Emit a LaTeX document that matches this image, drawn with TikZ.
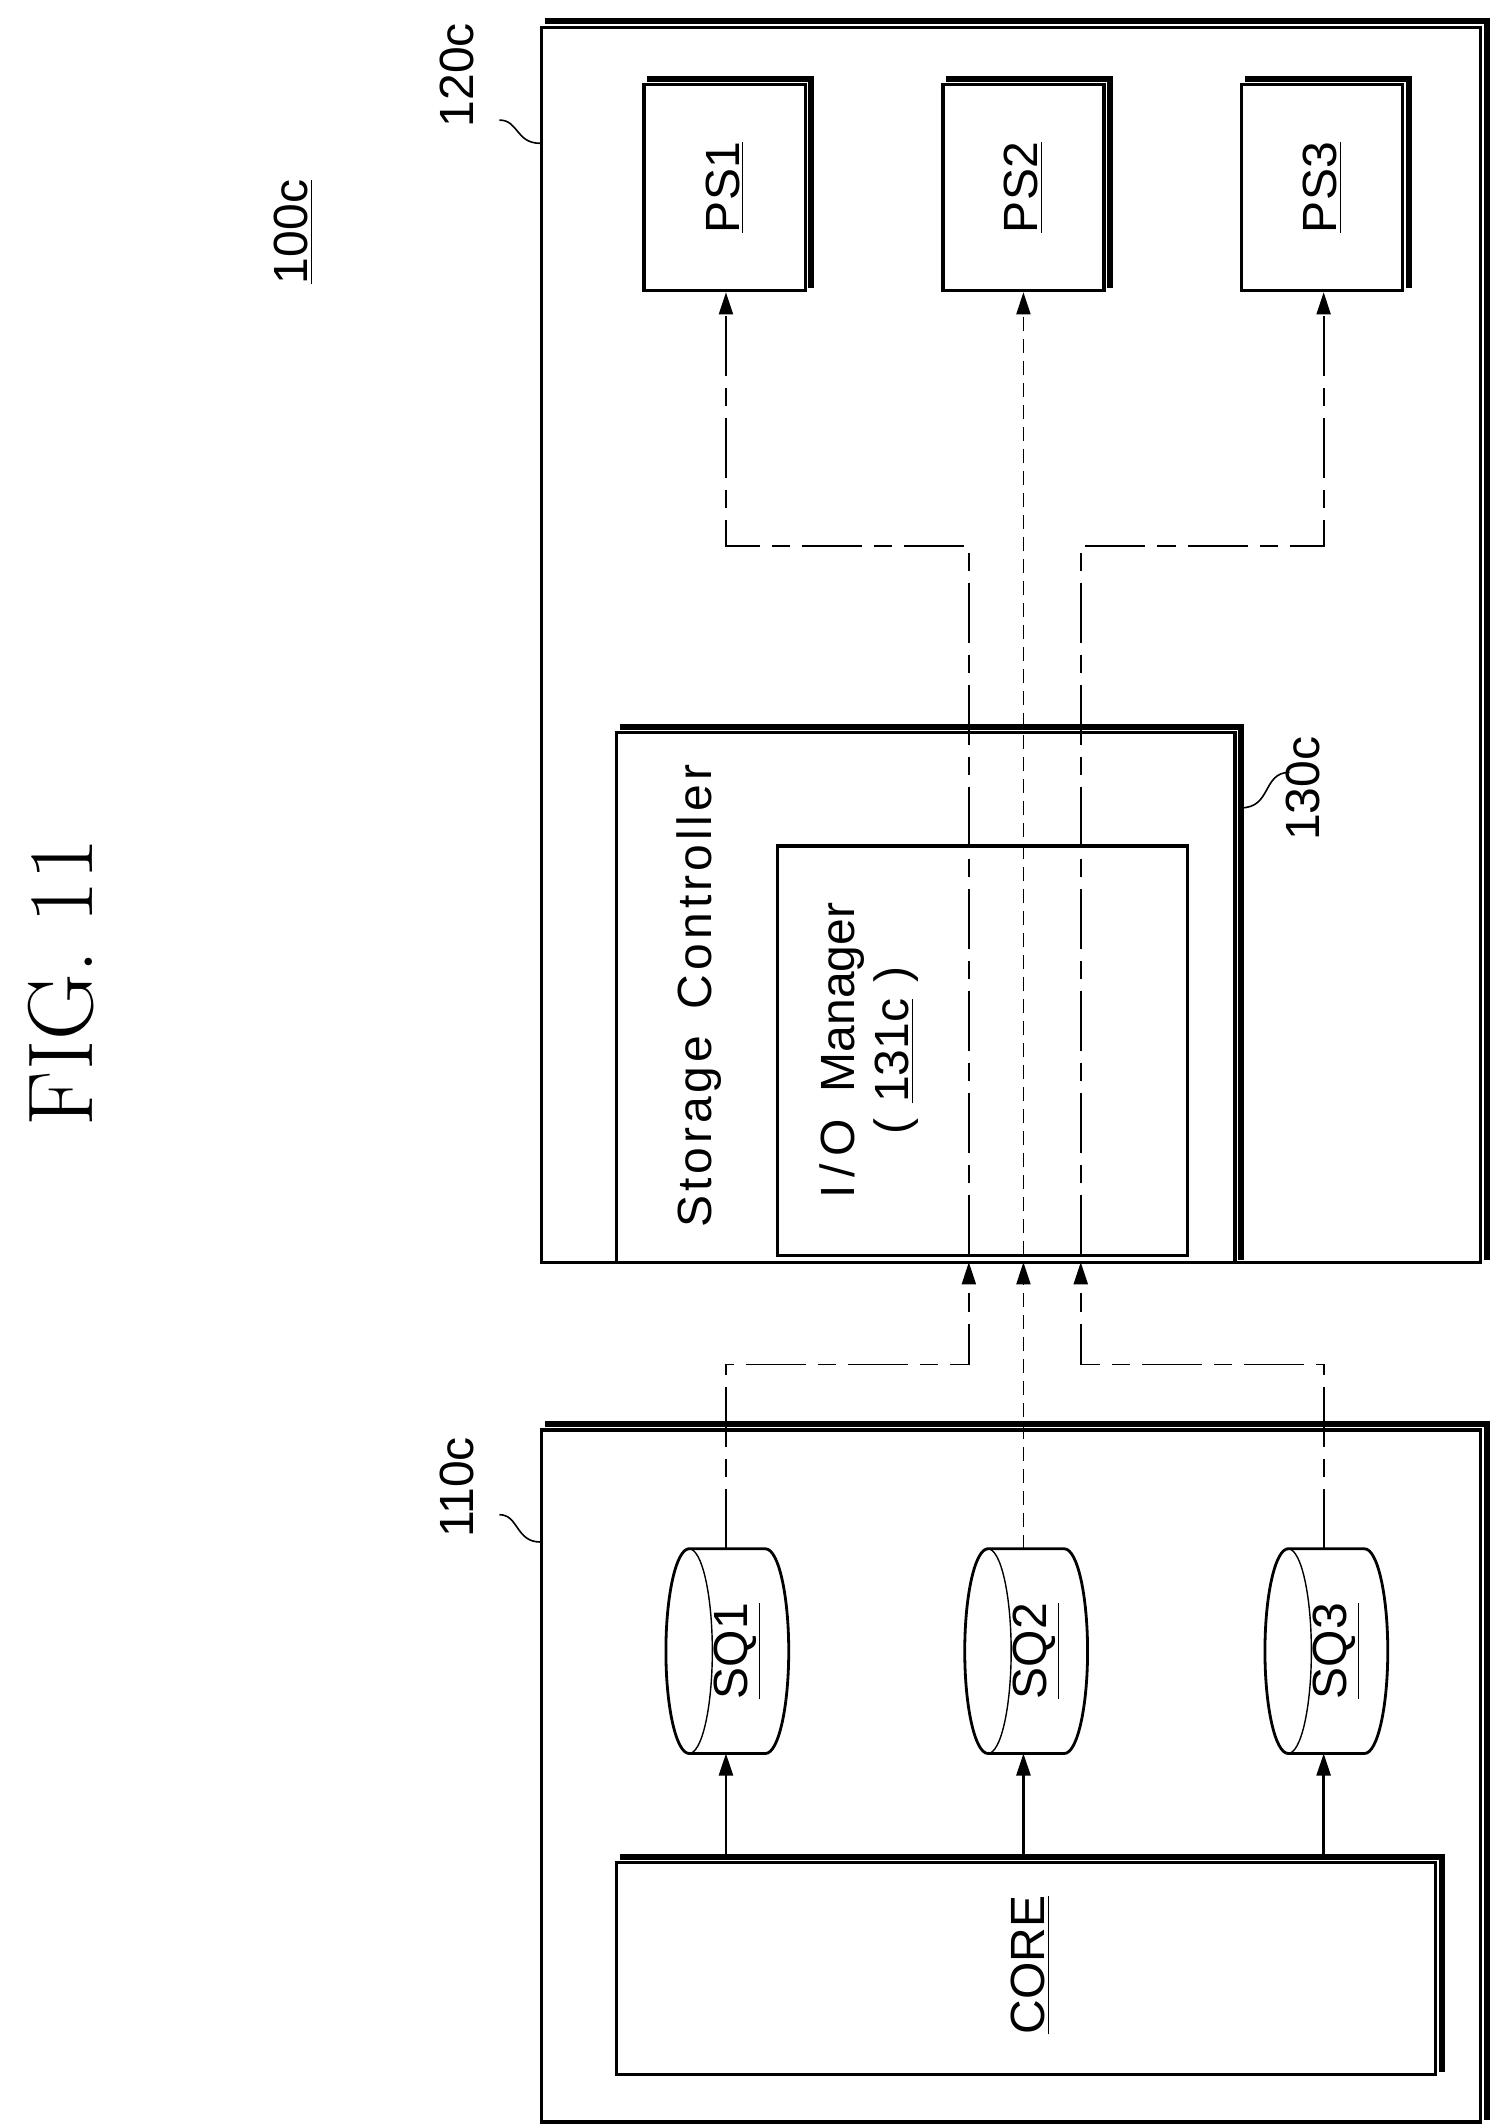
\documentclass[tikz,border=0pt]{standalone}
\usepackage{fontspec}
\setsansfont{Liberation Sans}
\usetikzlibrary{shapes.geometric,arrows.meta,calc}
\begin{document}
\begin{tikzpicture}[x=0.682pt,y=-0.682pt,
  box/.style={draw,line width=1.6pt,rectangle,inner sep=0pt},
  shad/.style={line width=3pt},
  lbl/.style={font=\sffamily\fontsize{24}{24}\selectfont,rotate=90},
  conn/.style={line width=0.9pt},
  dd/.style={conn,dash pattern=on 30pt off 6pt on 9pt off 6pt},
  dsh/.style={conn,dash pattern=on 7pt off 4pt},
  arr/.style={-{Triangle[length=11pt,width=7pt]}},
  lead/.style={line width=0.8pt}]
\useasboundingbox (0,0) rectangle (1100,1558);
\newcommand\mkshadow[1]{\draw[shad] ([xshift=2.5pt,yshift=2.2pt]#1.north west) -- ([xshift=2.2pt,yshift=2.2pt]#1.north east) -- ([xshift=2.2pt,yshift=2pt]#1.south east);}
% title
\node[rotate=90,font=\fontsize{46}{46}\selectfont] (fig) at (45,720) {FIG.~11};
\node[lbl] (lab100) at (215,170) {\underline{100c}};
% 120c
\node[box,minimum width={688*0.682pt},minimum height={905*0.682pt}] (b120) at (741,472.5) {};
\mkshadow{b120}
\node[lbl] (lab120) at (335,55) {120c};
\draw[lead] (366,88) .. controls (380,88) and (378,105) .. (b120.north west |- 0,105);
% PS boxes
\foreach \n/\x in {1/531,2/750,3/969}{
  \node[box,minimum width={118*0.682pt},minimum height={151*0.682pt}] (ps\n) at (\x,137.5) {};
  \node[lbl] at (ps\n) {\underline{PS\n}};
  \mkshadow{ps\n}
}
% storage controller
\node[box,minimum width={453*0.682pt},minimum height={388*0.682pt}] (sc) at (678.5,731) {};
\mkshadow{sc}
\node[lbl,anchor=west] (sctext) at (512,905) {S\kern2pt t\kern2pt o\kern2pt r\kern2pt a\kern2pt g\kern2pt e\ \ C\kern2pt o\kern2pt n\kern2pt t\kern2pt r\kern2pt o\kern2pt l\kern2pt l\kern2pt e\kern2pt r};
\node[box,minimum width={300*0.682pt},minimum height={300*0.682pt}] (io) at (720,770) {};
\node[lbl] (iotext) at (617,770) {I\,/\,O\ \ Manager};
\node[lbl] (iotext2) at (657,770) {(\,\,\underline{131c}\,\,)};
\node[lbl] (lab130) at (955,578) {130c};
\draw[lead] (sc.north east |- 0,592) ++(2.2pt,0) .. controls (932,592) and (925,566) .. (945,566);
% 110c
\node[box,minimum width={688*0.682pt},minimum height={507*0.682pt}] (b110) at (741,1301.5) {};
\mkshadow{b110}
\node[lbl] (lab110) at (335,1090) {110c};
\draw[lead] (366,1110) .. controls (380,1110) and (378,1130) .. (b110.north west |- 0,1130);
% cylinders
\foreach \n/\x in {1/533,2/752,3/972}{
  \node[inner sep=0pt,minimum width={90*0.682pt},minimum height={150*0.682pt}] (sq\n) at (\x,1210) {};
  \draw[line width=1.4pt] (\x-28,1135) -- (\x+28,1135) arc[start angle=90,end angle=-90,x radius=11.6pt,y radius=51.15pt] -- (\x-28,1285) arc[start angle=270,end angle=90,x radius=11.6pt,y radius=51.15pt] -- cycle;
  \draw[line width=0.7pt] (\x-28,1135) arc[start angle=90,end angle=-90,x radius=11.6pt,y radius=51.15pt];
  \node[lbl] at ([xshift=5pt]sq\n.center) {\underline{SQ\n}};
}
% core
\node[box,minimum width={600*0.682pt},minimum height={155*0.682pt}] (core) at (752,1442.5) {};
\mkshadow{core}
\node[lbl] at (755,1440) {\underline{CORE}};
% core -> SQ
\foreach \n/\x in {1/532,2/750,3/970}
  \draw[conn,line width=1.2pt,arr] (\x,1362) -- (\x,1285);
% SQ -> storage
\coordinate (in1) at (710,925);
\coordinate (in2) at (750,925);
\coordinate (in3) at (792,925);
\draw[dd,arr] (532,1135) -- (532,1000) -- (710,1000) -- (in1);
\draw[dsh,arr] (750,1135) -- (in2);
\draw[dd,arr] (970,1135) -- (970,1000) -- (792,1000) -- (in3);
% storage -> PS
\draw[dd,arr] (710,920) -- (710,400) -- (532,400) -- (ps1.south -| 532,0);
\draw[dsh,arr] (750,920) -- (ps2.south);
\draw[dd,arr] (792,920) -- (792,400) -- (970,400) -- (ps3.south -| 970,0);
\end{tikzpicture}
\end{document}
